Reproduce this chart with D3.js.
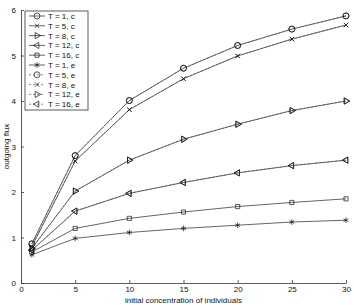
<!DOCTYPE html>
<html>
<head>
<meta charset="utf-8">
<script src="https://cdn.jsdelivr.net/npm/d3@7"></script>
<style>
  body { margin: 0; background: #fff; }
  svg text { font-family: "Liberation Sans", Arial, sans-serif; fill: #111; }
</style>
</head>
<body>
<div id="chart"></div>
<script>
// concentrations (x)
const conc = [1, 5, 10, 15, 20, 25, 30];

// outgoing flux per series
const t1c  = [0.86, 2.80, 4.01, 4.72, 5.22, 5.58, 5.87];
const t5c  = [0.80, 2.68, 3.81, 4.49, 4.99, 5.36, 5.67];
const t8c  = [0.76, 2.02, 2.70, 3.16, 3.49, 3.79, 4.00];
const t12c = [0.72, 1.58, 1.97, 2.21, 2.42, 2.58, 2.70];
const t16c = [0.68, 1.20, 1.42, 1.56, 1.68, 1.77, 1.85];
const t1e  = [0.62, 0.98, 1.11, 1.20, 1.27, 1.34, 1.38];
const t5e  = [0.86, 2.80, 4.01, 4.72, 5.22, 5.58, 5.87];
const t8e  = [0.80, 2.68, 3.81, 4.49, 4.99, 5.36, 5.67];
const t12e = [0.76, 2.02, 2.70, 3.16, 3.49, 3.79, 4.00];
const t16e = [0.72, 1.58, 1.97, 2.21, 2.42, 2.58, 2.70];

const labels = ["T = 1, c", "T = 5, c", "T = 8, c", "T = 12, c", "T = 16, c",
                "T = 1, e", "T = 5, e", "T = 8, e", "T = 12, e", "T = 16, e"];
const markers = ["circle", "x", "tright", "tleft", "square",
                 "star", "circle", "x", "tright", "tleft"];
const dashed = [false, false, false, false, false, false, true, true, true, true];
const values = [t1c, t5c, t8c, t12c, t16c, t1e, t5e, t8e, t12e, t16e];

const xTicks = [0, 5, 10, 15, 20, 25, 30];
const yTicks = [0, 1, 2, 3, 4, 5, 6];

const width = 354, height = 305;
const margin = {left: 21, right: 8, top: 10, bottom: 22};

const svg = d3.select('#chart').append('svg')
  .attr('width', width)
  .attr('height', height);

const x = d3.scaleLinear().domain([0, 30]).range([margin.left, width - margin.right]);
const y = d3.scaleLinear().domain([0, 6]).range([height - margin.bottom, margin.top]);

// axes, matlab style ticks inside
const xAxis = d3.axisBottom(x).tickValues(xTicks).tickFormat(d3.format('d'))
  .tickSizeInner(-3).tickSizeOuter(0).tickPadding(3);
const yAxis = d3.axisLeft(y).tickValues(yTicks).tickFormat(d3.format('d'))
  .tickSizeInner(-3).tickSizeOuter(0).tickPadding(5);

const gx = svg.append('g')
  .attr('transform', 'translate(0,' + y(0) + ')')
  .call(xAxis);
const gy = svg.append('g')
  .attr('transform', 'translate(' + x(0) + ',0)')
  .call(yAxis);

[gx, gy].forEach((g) => {
  g.select('.domain').attr('stroke', '#333').attr('stroke-width', 0.8);
  g.selectAll('.tick line').attr('stroke', '#333').attr('stroke-width', 0.8);
  g.selectAll('.tick text').attr('font-size', 8).attr('fill', '#111')
    .attr('font-family', '"Liberation Sans", Arial, sans-serif');
});

svg.append('text')
  .attr('x', (x(0) + x(30)) / 2)
  .attr('y', 303)
  .attr('text-anchor', 'middle')
  .attr('font-size', 8)
  .text('initial concentration of individuals');

svg.append('text')
  .attr('transform', 'translate(9,' + y(3) + ') rotate(-90)')
  .attr('text-anchor', 'middle')
  .attr('font-size', 8)
  .text('outgoing flux');

function markerPath(kind) {
  if (kind === 'circle') return d3.symbol(d3.symbolCircle, 28)();
  if (kind === 'x') return d3.symbol(d3.symbolTimes, 14)();
  if (kind === 'square') return d3.symbol(d3.symbolSquare2, 22)();
  if (kind === 'star') return d3.symbol(d3.symbolAsterisk, 22)();
  return d3.symbol(d3.symbolTriangle2, 28)();
}

function drawMarker(g, kind, cx, cy) {
  let rot = 0;
  if (kind === 'tright') rot = 90;
  if (kind === 'tleft') rot = -90;
  g.append('path')
    .attr('d', markerPath(kind))
    .attr('transform', 'translate(' + cx + ',' + cy + ') rotate(' + rot + ')')
    .attr('fill', kind === 'star' ? '#111' : 'none')
    .attr('stroke', '#111')
    .attr('stroke-width', 0.7);
}

const line = d3.line()
  .x((d) => x(d[0]))
  .y((d) => y(d[1]));

const plot = svg.append('g');

values.forEach((vals, i) => {
  const pts = conc.map((c, j) => [c, vals[j]]);
  plot.append('path')
    .datum(pts)
    .attr('d', line)
    .attr('fill', 'none')
    .attr('stroke', dashed[i] ? '#555' : '#222')
    .attr('stroke-width', 0.7)
    .attr('stroke-dasharray', dashed[i] ? '2,2' : null);
  pts.forEach((p) => drawMarker(plot, markers[i], x(p[0]), y(p[1])));
});

// legend
const lg = svg.append('g');
const lx = 25, ly = 11, rowH = 9.8;
lg.append('rect')
  .attr('x', lx).attr('y', ly)
  .attr('width', 63).attr('height', 99)
  .attr('fill', '#fff')
  .attr('stroke', '#333')
  .attr('stroke-width', 0.8);

labels.forEach((lab, i) => {
  const cy = ly + 5 + i * rowH;
  lg.append('line')
    .attr('x1', lx + 4).attr('x2', lx + 20)
    .attr('y1', cy).attr('y2', cy)
    .attr('stroke', dashed[i] ? '#555' : '#222')
    .attr('stroke-width', 0.7)
    .attr('stroke-dasharray', dashed[i] ? '2,2' : null);
  drawMarker(lg, markers[i], lx + 12, cy);
  lg.append('text')
    .attr('x', lx + 23)
    .attr('y', cy + 3)
    .attr('font-size', 8)
    .text(lab);
});
</script>
</body>
</html>
